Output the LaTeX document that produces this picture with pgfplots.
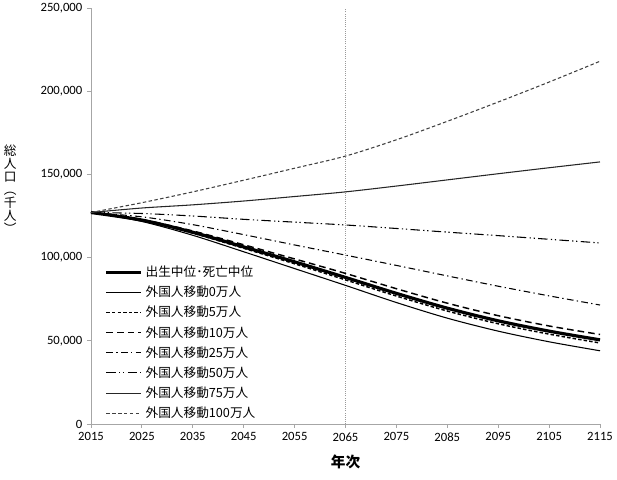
\documentclass[border=0pt]{standalone}
\usepackage{pgfplots}
\pgfplotsset{compat=1.18}
\usepackage{fontspec}
\setmainfont{Carlito}
\newfontfamily\cjk{Noto Sans CJK JP}
\begin{document}
\begin{tikzpicture}
\begin{axis}[
  scale only axis,
  width=381.75pt, height=312pt,
  xmin=2015, xmax=2115, ymin=0, ymax=250000,
  xtick={2015,2025,...,2115},
  ytick={0,50000,...,250000},
  scaled y ticks=false,
  /pgf/number format/.cd, fixed, 1000 sep={,}, assume math mode=true,
  /pgfplots/.cd,
  xticklabel={\pgfmathprintnumber[1000 sep={}]{\tick}},
  axis lines=left,
  axis line style={draw=gray!70, -},
  tick style={draw=gray!70, line width=0.6pt},
  tick align=outside,
  major tick length=3pt,
  ticklabel style={font=\fontsize{9.5}{11}\selectfont},
  xlabel={\cjk\bfseries 年次},
  xlabel style={font=\fontsize{11}{13}\selectfont, yshift=-3pt},
  clip=false,
  legend style={draw=none, fill=none, at={(rel axis cs:0.024,0.39)}, anchor=north west,
    font=\cjk\fontsize{9.5}{11}\selectfont, row sep=1.6pt, inner sep=1pt},
  legend cell align=left,
  legend image code/.code={\draw[#1] (0cm,0cm) -- (0.92cm,0cm);},
]
\coordinate (bl) at (rel axis cs:0,0);
\coordinate (tr) at (rel axis cs:1,1);
\draw[gray!80, densely dotted, line width=0.6pt] (axis cs:2065,0) -- (axis cs:2065,250000);

% Medium
\addplot[black, line width=2.4pt, smooth] coordinates {
(2015,127095) (2025,122544) (2035,115216) (2045,106421) (2055,97441) (2065,88077)
(2075,78500) (2085,69600) (2095,62000) (2105,55800) (2115,50555)};
\addlegendentry{出生中位･死亡中位}
% 0
\addplot[black, line width=0.8pt, smooth] coordinates {
(2015,127095) (2025,121700) (2035,113400) (2045,103500) (2055,93400) (2065,83300)
(2075,73000) (2085,63600) (2095,55800) (2105,49400) (2115,44000)};
\addlegendentry{外国人移動0万人}
% 5
\addplot[black, line width=1.1pt, dash pattern=on 2.6pt off 1.6pt, smooth] coordinates {
(2015,127095) (2025,122280) (2035,114700) (2045,105590) (2055,96280) (2065,86600)
(2075,76900) (2085,67890) (2095,60240) (2105,54010) (2115,48680)};
\addlegendentry{外国人移動5万人}
% 10
\addplot[black, line width=1.1pt, dash pattern=on 5pt off 3pt, smooth] coordinates {
(2015,127095) (2025,122860) (2035,116010) (2045,107705) (2055,99200) (2065,90500)
(2075,81300) (2085,72600) (2095,65100) (2105,58900) (2115,53800)};
\addlegendentry{外国人移動10万人}
% 25
\addplot[black, line width=0.8pt, dash pattern=on 5pt off 2.5pt on 1pt off 2.5pt, smooth] coordinates {
(2015,127095) (2025,124500) (2035,119800) (2045,113800) (2055,107600) (2065,101500)
(2075,95300) (2085,89000) (2095,82800) (2105,77000) (2115,71500)};
\addlegendentry{外国人移動25万人}
% 50
\addplot[black, line width=0.8pt, dash pattern=on 7pt off 2.5pt on 1pt off 2pt on 1pt off 2.5pt, smooth] coordinates {
(2015,127095) (2025,126500) (2035,125000) (2045,123000) (2055,121300) (2065,119600)
(2075,117500) (2085,115300) (2095,113200) (2105,111000) (2115,108800)};
\addlegendentry{外国人移動50万人}
% 75
\addplot[black!85, line width=0.8pt, smooth] coordinates {
(2015,127095) (2025,129800) (2035,131700) (2045,134000) (2055,136700) (2065,139500)
(2075,143000) (2085,146700) (2095,150400) (2105,154000) (2115,157500)};
\addlegendentry{外国人移動75万人}
% 100
\addplot[black!75, line width=0.8pt, dash pattern=on 2.6pt off 1.8pt, smooth] coordinates {
(2015,127095) (2025,133000) (2035,139500) (2045,146500) (2055,153700) (2065,161000)
(2075,170800) (2085,181900) (2095,193500) (2105,205500) (2115,218000)};
\addlegendentry{外国人移動100万人}

\node[font=\cjk\fontsize{9.5}{11}\selectfont, align=center, inner sep=0pt]
  at ([xshift=-60.5pt]rel axis cs:0,0.565)
  {総\\[-1.2pt]人\\[-1.2pt]口\\[-1.2pt]︵\\[-1.2pt]千\\[-1.2pt]人\\[-1.2pt]︶};
\end{axis}
\pgfresetboundingbox
\path ([xshift=-68.25pt,yshift=-42pt]bl) rectangle ([xshift=12.75pt,yshift=6pt]tr);
\end{tikzpicture}
\end{document}
